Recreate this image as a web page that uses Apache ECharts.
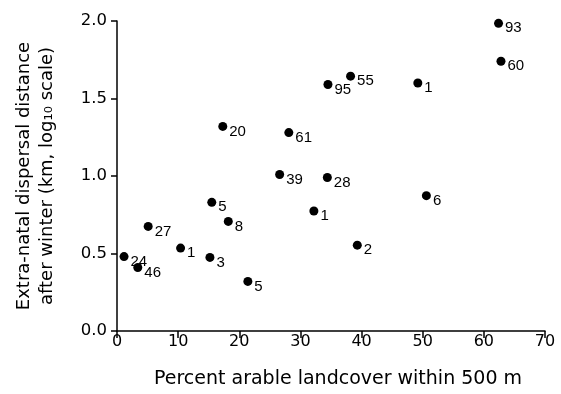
<!DOCTYPE html>
<html>
  <head>
    <meta charset="utf-8">
    <script src="https://cdn.jsdelivr.net/npm/echarts@6/dist/echarts.min.js"></script>
    <style>
      body { margin: 0; padding: 0; background: #fff; }
      #chart { width: 561px; height: 394px; }
    </style>
  </head>
  <body>
    <div id="chart"></div>
    <script>
      // percent arable landcover within 500 m
      const arable = [62.4, 62.8, 49.2, 38.2, 34.5, 17.3, 28.1, 26.6, 34.4, 15.5,
                      18.2, 32.2, 5.1, 10.4, 1.15, 3.4, 15.2, 21.4, 50.6, 39.3];
      // log10 dispersal distance (km)
      const dispersal = [1.985, 1.74, 1.60, 1.644, 1.59, 1.32, 1.28, 1.01, 0.99, 0.83,
                         0.707, 0.774, 0.675, 0.535, 0.48, 0.41, 0.475, 0.32, 0.873, 0.554];
      // point annotations
      const pointLabels = ['93', '60', '1', '55', '95', '20', '61', '39', '28', '5',
                           '8', '1', '27', '1', '24', '46', '3', '5', '6', '2'];

      const xTicks = [0, 10, 20, 30, 40, 50, 60, 70];
      const yTicks = [0, 0.5, 1, 1.5, 2];

      const axisFont = 'DejaVu Sans';
      const chart = echarts.init(document.getElementById('chart'));

      chart.setOption({
        animation: false,
        grid: { left: 117, right: 16, top: 21, bottom: 63, outerBoundsMode: 'none' },
        xAxis: {
          type: 'value',
          min: xTicks[0],
          max: xTicks[xTicks.length - 1],
          interval: 10,
          splitLine: { show: false },
          axisLine: { onZero: false, lineStyle: { color: '#000', width: 1.5 } },
          axisTick: { length: 7, lineStyle: { color: '#000', width: 1.5 } },
          axisLabel: { color: '#000', fontFamily: axisFont, fontSize: 16, margin: 3 },
          name: 'Percent arable landcover within 500 m',
          nameLocation: 'middle',
          nameGap: 39,
          nameTextStyle: { color: '#000', fontFamily: axisFont, fontSize: 19, padding: [0, 0, 0, 14] }
        },
        yAxis: {
          type: 'value',
          min: yTicks[0],
          max: yTicks[yTicks.length - 1],
          interval: 0.5,
          splitLine: { show: false },
          axisLine: { show: true, onZero: false, lineStyle: { color: '#000', width: 1.5 } },
          axisTick: { show: true, length: 6, lineStyle: { color: '#000', width: 1.5 } },
          axisLabel: {
            color: '#000', fontFamily: axisFont, fontSize: 16.5, margin: 10,
            formatter: v => v.toFixed(1)
          },
          name: 'Extra-natal dispersal distance\nafter winter (km, log₁₀ scale)',
          nameLocation: 'middle',
          nameRotate: 90,
          nameGap: 58,
          nameTextStyle: { color: '#000', fontFamily: axisFont, fontSize: 18, lineHeight: 23, align: 'center' }
        },
        series: [{
          type: 'scatter',
          symbol: 'circle',
          symbolSize: 9,
          itemStyle: { color: '#000', opacity: 1 },
          label: {
            show: true,
            position: 'right',
            distance: 2,
            offset: [0, 5],
            color: '#000',
            fontFamily: 'Liberation Sans',
            fontSize: 15,
            formatter: p => pointLabels[p.dataIndex]
          },
          data: arable.map((x, i) => [x, dispersal[i]])
        }]
      });
    </script>
  </body>
</html>
